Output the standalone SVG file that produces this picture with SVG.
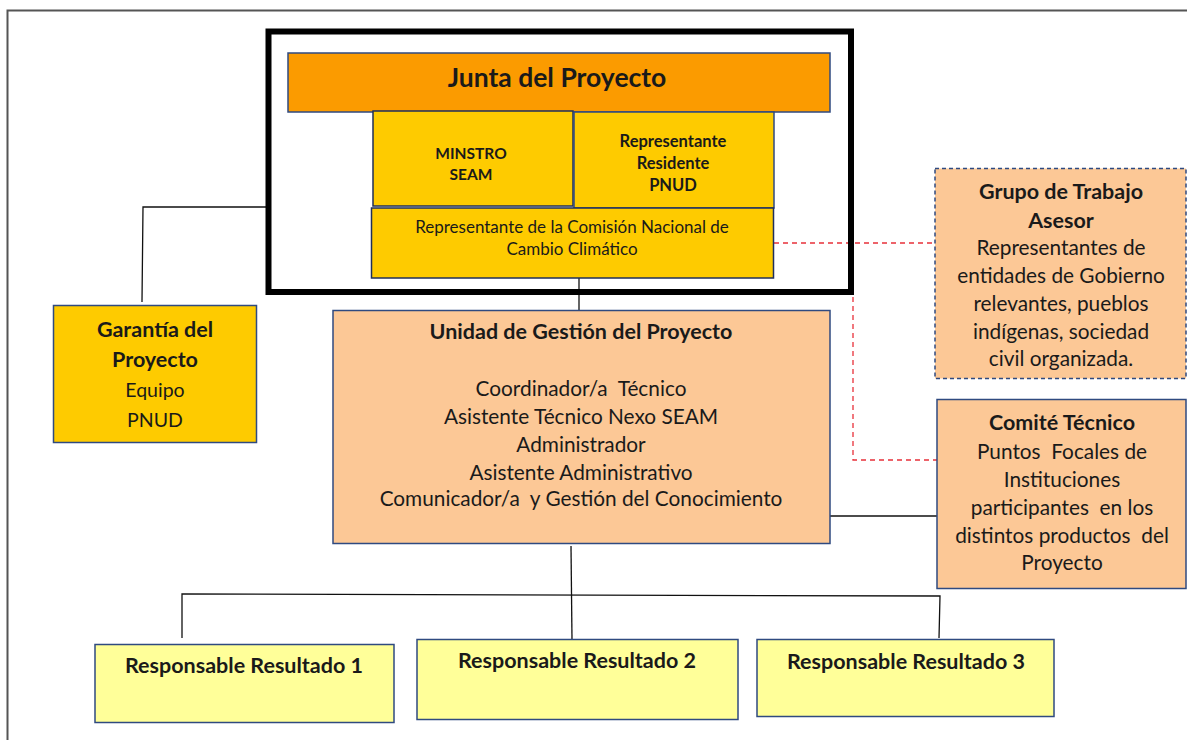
<svg xmlns="http://www.w3.org/2000/svg" width="1187" height="740" viewBox="0 0 1187 740">
<style>
text{font-family:Lato,"Open Sans","Liberation Sans",sans-serif;fill:#1a1a1a;text-anchor:middle}
.b{font-weight:bold}
.box{stroke:#2f4a80;stroke-width:1.5}
.conn{stroke:#111;stroke-width:1.3;fill:none}
.red{stroke:#e8313a;stroke-width:1.3;stroke-dasharray:5 4;fill:none}
.t{font-size:20.8px}
.tb{font-size:21.5px;font-weight:bold}
</style>
<rect x="0" y="0" width="1187" height="740" fill="#fff"/>
<rect x="7.5" y="10.5" width="1200" height="800" fill="none" stroke="#555" stroke-width="2"/>
<g id="connectors">
<polyline class="conn" points="268,207 143,207 142,302"/>
<line class="conn" x1="579" y1="278" x2="579" y2="310"/>
<line class="red" x1="774" y1="243" x2="935" y2="243"/>
<polyline class="red" points="853,243 853,460 937,460"/>
<line class="conn" x1="830" y1="516" x2="937" y2="516"/>
<line class="conn" x1="571" y1="546" x2="572" y2="640"/>
<polyline class="conn" points="182,638 182,594 940,596 939,638"/>
</g>
<g id="junta-frame">
<rect x="268.5" y="31.5" width="582.5" height="260.5" fill="none" stroke="#000" stroke-width="6"/>
</g>
<g id="junta">
<rect class="box" x="288" y="53" width="542" height="59" fill="#fb9b00"/>
<text class="b" x="557" y="87" font-size="26.5">Junta del Proyecto</text>
</g>
<g id="ministro">
<rect class="box" x="373" y="111" width="200" height="95" fill="#fecb00" stroke-width="2.2" style="stroke:#1f2f5a"/>
<text class="b" x="471" y="159" font-size="15.5">MINSTRO</text>
<text class="b" x="471" y="180" font-size="15.5">SEAM</text>
</g>
<g id="pnud">
<rect class="box" x="574" y="112" width="200" height="96" fill="#fecb00"/>
<text class="b" x="673" y="147" font-size="16.5">Representante</text>
<text class="b" x="673" y="169" font-size="16.5">Residente</text>
<text class="b" x="673" y="191" font-size="16.5">PNUD</text>
</g>
<g id="comision">
<rect class="box" x="371.5" y="208" width="402" height="70" fill="#fecb00" stroke-width="2" style="stroke:#1f2f5a"/>
<text x="572" y="233" font-size="17">Representante de la Comisión Nacional de</text>
<text x="572" y="255" font-size="17">Cambio Climático</text>
</g>
<g id="garantia">
<rect class="box" x="53.5" y="305.5" width="203" height="137" fill="#fecb00"/>
<text class="tb" x="155" y="337">Garantía del</text>
<text class="tb" x="155" y="367">Proyecto</text>
<text x="155" y="397" font-size="19.5">Equipo</text>
<text x="155" y="427" font-size="19.5">PNUD</text>
</g>
<g id="ugp">
<rect class="box" x="333" y="310.5" width="497" height="233" fill="#fcc896"/>
<text class="tb" x="581" y="339">Unidad de Gestión del Proyecto</text>
<text class="t" x="581" y="396" xml:space="preserve">Coordinador/a  Técnico</text>
<text class="t" x="581" y="424">Asistente Técnico Nexo SEAM</text>
<text class="t" x="581" y="452">Administrador</text>
<text class="t" x="581" y="480">Asistente Administrativo</text>
<text class="t" x="581" y="506" xml:space="preserve">Comunicador/a  y Gestión del Conocimiento</text>
</g>
<g id="grupo">
<rect x="935" y="168.5" width="251" height="210" fill="#fcc896" stroke="#2f4a80" stroke-width="1.5" stroke-dasharray="4 3"/>
<text class="tb" x="1061" y="199">Grupo de Trabajo</text>
<text class="tb" x="1061" y="228">Asesor</text>
<text class="t" x="1061" y="255">Representantes de</text>
<text class="t" x="1061" y="283">entidades de Gobierno</text>
<text class="t" x="1061" y="311">relevantes, pueblos</text>
<text class="t" x="1061" y="339">indígenas, sociedad</text>
<text class="t" x="1061" y="366">civil organizada.</text>
</g>
<g id="comite">
<rect class="box" x="937" y="399.5" width="249" height="189" fill="#fcc896"/>
<text class="tb" x="1062" y="430">Comité Técnico</text>
<text class="t" x="1062" y="459" xml:space="preserve">Puntos  Focales de</text>
<text class="t" x="1062" y="487">Instituciones</text>
<text class="t" x="1062" y="515" xml:space="preserve">participantes  en los</text>
<text class="t" x="1062" y="543" xml:space="preserve">distintos productos  del</text>
<text class="t" x="1062" y="570">Proyecto</text>
</g>
<g id="resultado1">
<rect class="box" x="95" y="644.5" width="299" height="78" fill="#ffff99"/>
<text class="tb" x="244" y="673">Responsable Resultado 1</text>
</g>
<g id="resultado2">
<rect class="box" x="417" y="639.5" width="321" height="80" fill="#ffff99"/>
<text class="tb" x="577" y="668">Responsable Resultado 2</text>
</g>
<g id="resultado3">
<rect class="box" x="757" y="639.5" width="297" height="77" fill="#ffff99"/>
<text class="tb" x="906" y="669">Responsable Resultado 3</text>
</g>
</svg>
